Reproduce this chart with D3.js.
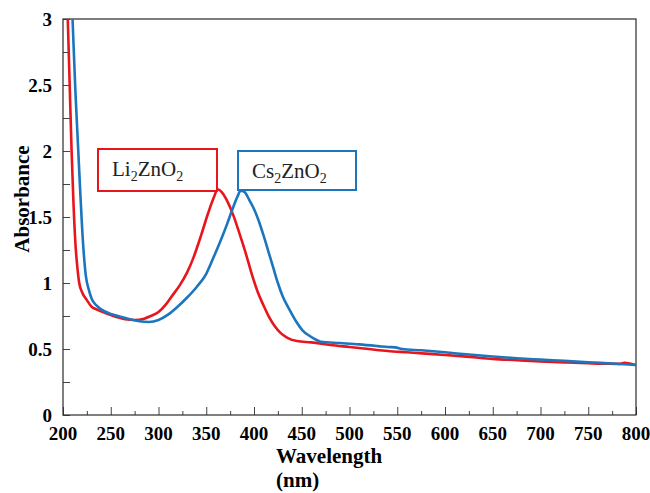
<!DOCTYPE html>
<html>
<head>
<meta charset="utf-8">
<script src="https://cdn.jsdelivr.net/npm/d3@7"></script>
<style>
    body { margin: 0; background: #fff; }
    svg text { font-family: "Liberation Serif", "Times New Roman", serif; }
</style>
</head>
<body>
<div id="chart"></div>
<script>
// wavelength (nm) / absorbance
var liWave = [203, 205, 207, 209, 211, 213, 215, 217, 220, 225, 230, 235, 245, 255, 265, 275, 285, 292, 300, 308, 315, 322, 330, 337, 345, 352, 358, 362, 366, 372, 378, 385, 392, 398, 404, 410, 416, 422, 428, 435, 445, 460, 480, 500, 520, 540, 560, 580, 600, 626, 650, 675, 700, 725, 750, 770, 782, 788, 792, 796, 800];
var liAbs = [3.5, 3.0, 2.5, 2.0, 1.6, 1.3, 1.12, 1.0, 0.93, 0.87, 0.82, 0.8, 0.77, 0.745, 0.725, 0.72, 0.73, 0.75, 0.78, 0.84, 0.91, 0.98, 1.08, 1.2, 1.37, 1.53, 1.65, 1.71, 1.69, 1.62, 1.52, 1.37, 1.21, 1.06, 0.93, 0.83, 0.74, 0.67, 0.62, 0.585, 0.56, 0.55, 0.53, 0.515, 0.5, 0.485, 0.475, 0.465, 0.455, 0.44, 0.425, 0.415, 0.405, 0.398, 0.392, 0.388, 0.387, 0.395, 0.392, 0.385, 0.378];

var csWave = [207, 210, 213, 216, 218, 221, 224, 227, 230, 235, 240, 250, 260, 270, 280, 290, 300, 310, 320, 330, 340, 350, 358, 365, 372, 378, 383, 386, 390, 395, 400, 405, 410, 415, 420, 425, 430, 437, 444, 451, 458, 465, 470, 490, 510, 530, 540, 548, 555, 575, 600, 625, 650, 675, 700, 725, 750, 775, 800];
var csAbs = [3.55, 3.0, 2.45, 2.0, 1.7, 1.3, 1.05, 0.95, 0.88, 0.83, 0.8, 0.765, 0.745, 0.725, 0.71, 0.705, 0.72, 0.76, 0.82, 0.89, 0.97, 1.07, 1.2, 1.32, 1.45, 1.57, 1.66, 1.7, 1.69, 1.63, 1.56, 1.47, 1.36, 1.24, 1.12, 1.0, 0.9, 0.8, 0.71, 0.64, 0.6, 0.57, 0.555, 0.545, 0.535, 0.522, 0.515, 0.512, 0.5, 0.49, 0.475, 0.458, 0.443, 0.43, 0.42, 0.41, 0.4, 0.39, 0.38];

var xTicks = [200, 250, 300, 350, 400, 450, 500, 550, 600, 650, 700, 750, 800];
var yTicks = [0, 0.5, 1, 1.5, 2, 2.5, 3];

var margin = { top: 19, right: 14, bottom: 78, left: 63 },
    width = 650 - margin.left - margin.right,
    height = 493 - margin.top - margin.bottom;

var x = d3.scaleLinear().domain([200, 800]).range([0, width]),
    y = d3.scaleLinear().domain([0, 3]).range([height, 0]);

var svg = d3
    .select("#chart")
    .append("svg")
    .attr("width", 650)
    .attr("height", 493)
    .append("g")
    .attr("transform", "translate(" + margin.left + "," + margin.top + ")");

svg.append("clipPath")
    .attr("id", "plotclip")
    .append("rect")
    .attr("width", width)
    .attr("height", height);

// minor + major ticks, pointing inward
var xMinor = d3.range(225, 800, 50);
svg.append("g")
    .attr("transform", "translate(0," + height + ")")
    .call(d3.axisTop(x).tickValues(xMinor).tickSize(4).tickFormat(""))
    .call(function(g) { g.select(".domain").remove(); })
    .selectAll("line").attr("stroke", "#444");

var xAxis = svg
    .append("g")
    .attr("transform", "translate(0," + height + ")")
    .call(d3.axisTop(x).tickValues(xTicks).tickSize(8).tickFormat(""));
xAxis.select(".domain").remove();
xAxis.selectAll("line").attr("stroke", "#444");

svg.selectAll(".xlab")
    .data(xTicks)
    .enter()
    .append("text")
    .attr("class", "xlab")
    .attr("x", function(d) { return x(d); })
    .attr("y", height + 25)
    .attr("text-anchor", "middle")
    .style("font-size", "19px")
    .style("font-weight", "bold")
    .text(function(d) { return d; });

var yAxis = svg
    .append("g")
    .call(d3.axisRight(y).tickValues(d3.range(0, 3.01, 0.25)).tickSize(7).tickFormat(""));
yAxis.select(".domain").remove();
yAxis.selectAll("line").attr("stroke", "#444");

svg.selectAll(".ylab")
    .data(yTicks)
    .enter()
    .append("text")
    .attr("class", "ylab")
    .attr("x", -11)
    .attr("y", function(d) { return y(d); })
    .attr("dy", "0.35em")
    .attr("text-anchor", "end")
    .style("font-size", "19px")
    .style("font-weight", "bold")
    .text(function(d) { return d; });

svg.append("rect")
    .attr("width", width)
    .attr("height", height)
    .attr("fill", "none")
    .attr("stroke", "#2a2a2a")
    .attr("stroke-width", 1.2);

var line = d3
    .line()
    .x(function(d) { return x(d[0]); })
    .y(function(d) { return y(d[1]); })
    .curve(d3.curveMonotoneX);

var series = [
    { color: "#e8151d", data: d3.zip(liWave, liAbs) },
    { color: "#1c76bd", data: d3.zip(csWave, csAbs) }
];

svg.append("g")
    .attr("clip-path", "url(#plotclip)")
    .selectAll("path")
    .data(series)
    .enter()
    .append("path")
    .attr("d", function(d) { return line(d.data); })
    .attr("fill", "none")
    .attr("stroke", function(d) { return d.color; })
    .attr("stroke-width", 2.6)
    .attr("stroke-linejoin", "round");

// labels in boxes
var legends = [
    { el: "Li", color: "#e8151d", x0: 35, y0: 130, w: 119, h: 42 },
    { el: "Cs", color: "#1c76bd", x0: 175, y0: 132, w: 118, h: 39 }
];

legends.forEach(function(l) {
    svg.append("rect")
        .attr("x", l.x0)
        .attr("y", l.y0)
        .attr("width", l.w)
        .attr("height", l.h)
        .attr("fill", "#fff")
        .attr("stroke", l.color)
        .attr("stroke-width", 2);
    var t = svg
        .append("text")
        .attr("x", l.x0 + 14)
        .attr("y", l.y0 + 27)
        .attr("fill", "#222")
        .style("font-size", "21px");
    t.append("tspan").text(l.el);
    t.append("tspan").attr("dy", 5).style("font-size", "14px").text("2");
    t.append("tspan").attr("dy", -5).text("ZnO");
    t.append("tspan").attr("dy", 5).style("font-size", "14px").text("2");
});

svg.append("text")
    .attr("transform", "translate(-34," + height / 2.2 + ") rotate(-90)")
    .attr("text-anchor", "middle")
    .style("font-size", "21px")
    .style("font-weight", "bold")
    .text("Absorbance");

svg.append("text")
    .attr("x", 213)
    .attr("y", height + 48)
    .style("font-size", "21px")
    .style("font-weight", "bold")
    .text("Wavelength");

svg.append("text")
    .attr("x", 213)
    .attr("y", height + 72)
    .style("font-size", "21px")
    .style("font-weight", "bold")
    .text("(nm)");
</script>
</body>
</html>
